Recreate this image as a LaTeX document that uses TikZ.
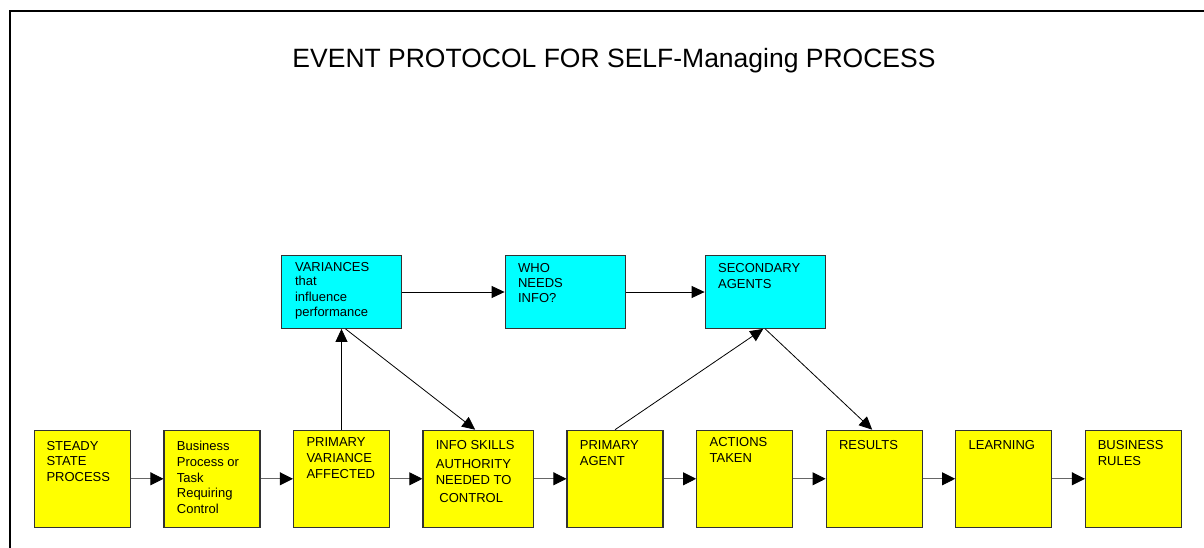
\documentclass[tikz,border=0pt]{standalone}
\usepackage{fontspec}
\setmainfont{Liberation Sans}
\usetikzlibrary{arrows.meta}

\definecolor{boxyellow}{RGB}{255,255,0}
\definecolor{boxcyan}{RGB}{0,255,255}

\tikzset{
    ybox/.style={draw=black!80, line width=1.2pt, fill=boxyellow, minimum width=96pt, minimum height=97pt, inner sep=0pt},
    cbox/.style={draw=black!80, line width=1.2pt, fill=boxcyan, minimum width=120pt, minimum height=72.6pt, inner sep=0pt},
    boxtext/.style={anchor=north west, align=left, inner sep=0pt, font=\fontsize{13}{15.7}\selectfont},
    flow/.style={draw=black!60, line width=0.9pt, -{Triangle[length=13pt, width=13pt, color=black]}},
    link/.style={draw=black, line width=0.8pt, -{Triangle[length=13pt, width=12pt]}},
}

\begin{document}
\begin{tikzpicture}[x=1pt, y=-1pt]
    \useasboundingbox (0,0) rectangle (1204,548);
    % frame
    \draw[line width=2pt] (10.3,548) -- (10.3,11) -- (1204,11);
    \node[anchor=base, inner sep=0pt, font=\fontsize{26.5}{30}\selectfont] (title) at (614,67.7) {EVENT PROTOCOL FOR SELF-Managing PROCESS};

    % main chain
    \node[ybox] (steady) at (82.2,478.8) {};
    \node[ybox] (task) at (212,478.8) {};
    \node[ybox] (primvar) at (341.5,478.8) {};
    \node[ybox, minimum width=110.5pt] (info) at (478.2,478.8) {};
    \node[ybox] (agent) at (615,478.8) {};
    \node[ybox] (actions) at (744.7,478.8) {};
    \node[ybox] (results) at (874.2,478.8) {};
    \node[ybox] (learning) at (1003.7,478.8) {};
    \node[ybox] (rules) at (1133.5,478.8) {};

    \node[boxtext] (steady-t) at ([shift={(12.7,11.2)}]steady.north west) {STEADY\\STATE\\PROCESS};
    \node[boxtext] (task-t) at ([shift={(13.3,11.5)}]task.north west) {Business\\Process or\\Task\\Requiring\\Control};
    \node[boxtext] (primvar-t) at ([shift={(13.4,7.8)}]primvar.north west) {PRIMARY\\VARIANCE\\AFFECTED};
    \node[boxtext] (info-t) at ([shift={(13.3,10.2)}]info.north west) {INFO SKILLS\\[4pt]AUTHORITY\\NEEDED TO\\[2.4pt]\ CONTROL};
    \node[boxtext] (agent-t) at ([shift={(13.3,10.8)}]agent.north west) {PRIMARY\\AGENT};
    \node[boxtext] (actions-t) at ([shift={(13.3,7.8)}]actions.north west) {ACTIONS\\TAKEN};
    \node[boxtext] (results-t) at ([shift={(13.3,10.5)}]results.north west) {RESULTS};
    \node[boxtext] (learning-t) at ([shift={(13.3,10.5)}]learning.north west) {LEARNING};
    \node[boxtext] (rules-t) at ([shift={(12.7,10.8)}]rules.north west) {BUSINESS\\RULES};

    % upper row
    \node[cbox] (var) at (341.5,292) {};
    \node[cbox] (who) at (565.2,292) {};
    \node[cbox] (second) at (765.2,292) {};

    \node[boxtext, font=\fontsize{13}{15.3}\selectfont] (var-t) at ([shift={(14,7.6)}]var.north west) {VARIANCES\\[-1.5pt]that\\influence\\performance};
    \node[boxtext, font=\fontsize{13}{14.8}\selectfont] (who-t) at ([shift={(13.3,8.3)}]who.north west) {WHO\\NEEDS\\INFO?};
    \node[boxtext] (second-t) at ([shift={(13.3,8.3)}]second.north west) {SECONDARY\\AGENTS};

    % connectors
    \draw[flow] (steady) -- (task);
    \draw[flow] (task) -- (primvar);
    \draw[flow] (primvar) -- (info);
    \draw[flow] (info) -- (agent);
    \draw[flow] (agent) -- (actions);
    \draw[flow] (actions) -- (results);
    \draw[flow] (results) -- (learning);
    \draw[flow] (learning) -- (rules);

    \draw[link] (var) -- (who);
    \draw[link] (who) -- (second);
    \draw[link] (primvar) -- (var);
    \draw[link] ([xshift=4pt]var.south) -- ([xshift=-3pt]info.north);
    \draw[link] (agent.north) -- ([xshift=-2pt]second.south);
    \draw[link] (second.south) -- ([xshift=-2pt]results.north);
\end{tikzpicture}
\end{document}
